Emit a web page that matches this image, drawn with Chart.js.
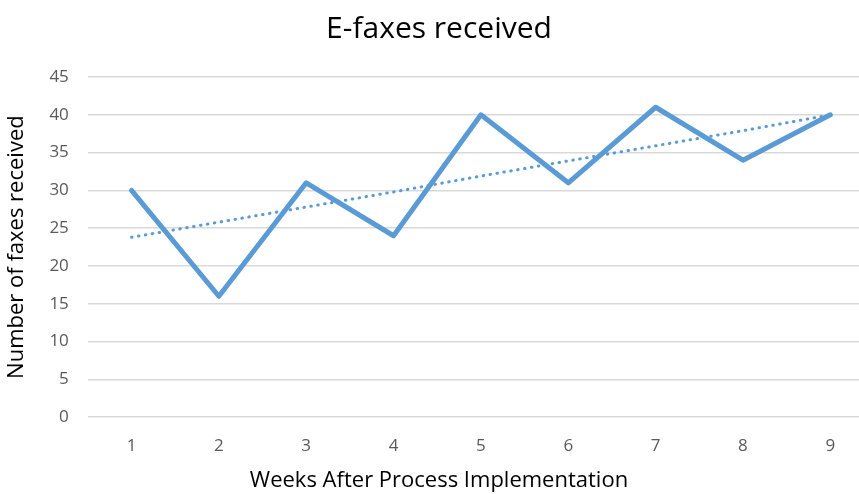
<!DOCTYPE html>
<html>
<head>
<meta charset="utf-8">
<script src="https://cdn.jsdelivr.net/npm/chart.js@4"></script>
<style>
  html, body { margin: 0; padding: 0; background: #fff; overflow: hidden; }
  #wrap { width: 874px; height: 494px; }
</style>
</head>
<body>
<div id="wrap"><canvas id="faxChart"></canvas></div>
<script>
// weeks and faxes
const weeks = ["1", "2", "3", "4", "5", "6", "7", "8", "9"];
const faxes = [30, 16, 31, 24, 40, 31, 41, 34, 40];
// dotted linear trendline
const trend = [23.8, 25.8, 27.8, 29.8, 31.9, 33.9, 35.9, 37.9, 40.0];

const ctx = document.getElementById('faxChart').getContext('2d');
const faxChart = new Chart(ctx, {
  type: 'line',
  data: {
    labels: weeks,
    datasets: [{
      label: 'E-faxes received',
      data: faxes,
      borderColor: '#5b9bd5',
      borderWidth: 5,
      pointRadius: 0,
      tension: 0,
      borderJoinStyle: 'round',
      borderCapStyle: 'round'
    }, {
      label: 'Linear trend',
      data: trend,
      borderColor: '#5b9bd5',
      borderWidth: 3,
      borderDash: [0.5, 6.5],
      borderCapStyle: 'round',
      pointRadius: 0,
      tension: 0
    }]
  },
  options: {
    responsive: true,
    maintainAspectRatio: false,
    animation: false,
    layout: { padding: { left: 4, top: 11, bottom: 0, right: 0 } },
    plugins: {
      legend: { display: false },
      tooltip: { enabled: false },
      title: {
        display: true,
        text: 'E-faxes received',
        color: '#000',
        font: { family: 'Open Sans', size: 30, weight: 'normal' },
        padding: { top: 0, bottom: 30 }
      },
      subtitle: {
        display: true,
        position: 'bottom',
        text: 'Weeks After Process Implementation',
        color: '#000',
        font: { family: 'Open Sans', size: 22, weight: 'normal' },
        padding: { top: 0, bottom: 0 }
      }
    },
    scales: {
      x: {
        offset: true,
        grid: { display: false },
        border: { display: false },
        ticks: { color: '#595959', font: { family: 'Open Sans', size: 17 }, padding: 11 }
      },
      y: {
        min: 0,
        max: 45,
        ticks: { stepSize: 5, color: '#595959', font: { family: 'Open Sans', size: 17 }, padding: 19 },
        grid: { color: '#d9d9d9', lineWidth: 1.5, drawTicks: false },
        border: { display: false },
        title: {
          display: true,
          text: 'Number of faxes received',
          color: '#000',
          font: { family: 'Open Sans', size: 22, weight: 'normal' },
          padding: { top: 0, bottom: 0 }
        }
      }
    }
  }
});
</script>
</body>
</html>
